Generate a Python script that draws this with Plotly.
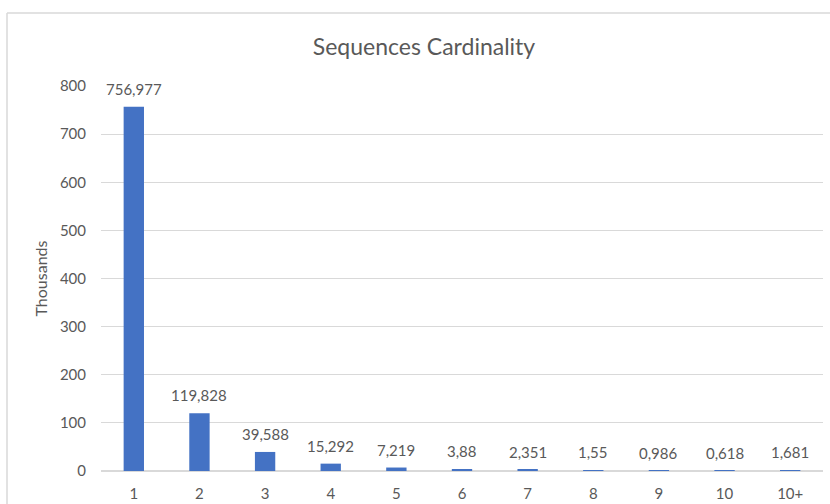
import plotly.graph_objects as go

categories = ["1", "2", "3", "4", "5", "6", "7", "8", "9", "10", "10+"]
values_thousands = [756.977, 119.828, 39.588, 15.292, 7.219, 3.88, 2.351, 1.55, 0.986, 0.618, 1.681]
labels = [f"{v:g}".replace(".", ",") for v in values_thousands]
y_ticks = [0, 100, 200, 300, 400, 500, 600, 700, 800]

W, H = 830, 504
ML, MR, MT, MB = 101, 7, 86, 33
font_family = "Lato, Open Sans, sans-serif"
txt = "#595959"

fig = go.Figure(go.Bar(
    x=categories, y=values_thousands,
    marker=dict(color="#4472C4", line=dict(width=0)), width=0.31, cliponaxis=False,
))

# category axis: annotations are positioned by category index
annotations = [
    dict(x=i, y=v, xref="x", yref="y", text=t, showarrow=False, yanchor="middle",
         yshift=18, font=dict(size=15, color=txt, family=font_family))
    for i, (v, t) in enumerate(zip(values_thousands, labels))
]

pw = W - ML - MR
ph = H - MT - MB
bx = (7 - ML) / pw
by = (H - MB - 13) / ph

fig.update_layout(
    width=W, height=H,
    margin=dict(l=ML, r=MR, t=MT, b=MB),
    paper_bgcolor="white", plot_bgcolor="white",
    font=dict(family=font_family, color=txt, size=15),
    title=dict(text="Sequences Cardinality", x=424 / W, xanchor="center",
               y=1 - 47 / H, yanchor="middle", font=dict(size=23, color=txt)),
    showlegend=False,
    annotations=annotations,
    xaxis=dict(type="category", showgrid=False, showline=False, ticks="", ticklabelstandoff=12,
               automargin=False, tickfont=dict(size=15, color=txt)),
    yaxis=dict(range=[0, 800], tickvals=y_ticks, showgrid=True, gridcolor="#d9d9d9",
               gridwidth=1, zeroline=True, zerolinecolor="#d9d9d9", showline=False,
               automargin=False,
               ticks="", ticklabelstandoff=14, tickfont=dict(size=15, color=txt),
               title=dict(text="Thousands", font=dict(size=16, color=txt), standoff=8)),
    shapes=[
        dict(type="line", xref="paper", yref="paper", x0=bx, x1=(W - ML) / pw + 0.1, y0=by, y1=by,
             line=dict(color="#d9d9d9", width=1.5)),
        dict(type="line", xref="paper", yref="paper", x0=bx, x1=bx, y0=by, y1=-MB / ph - 0.1,
             line=dict(color="#d9d9d9", width=1.5)),
    ],
)

fig.write_html("out.html")
